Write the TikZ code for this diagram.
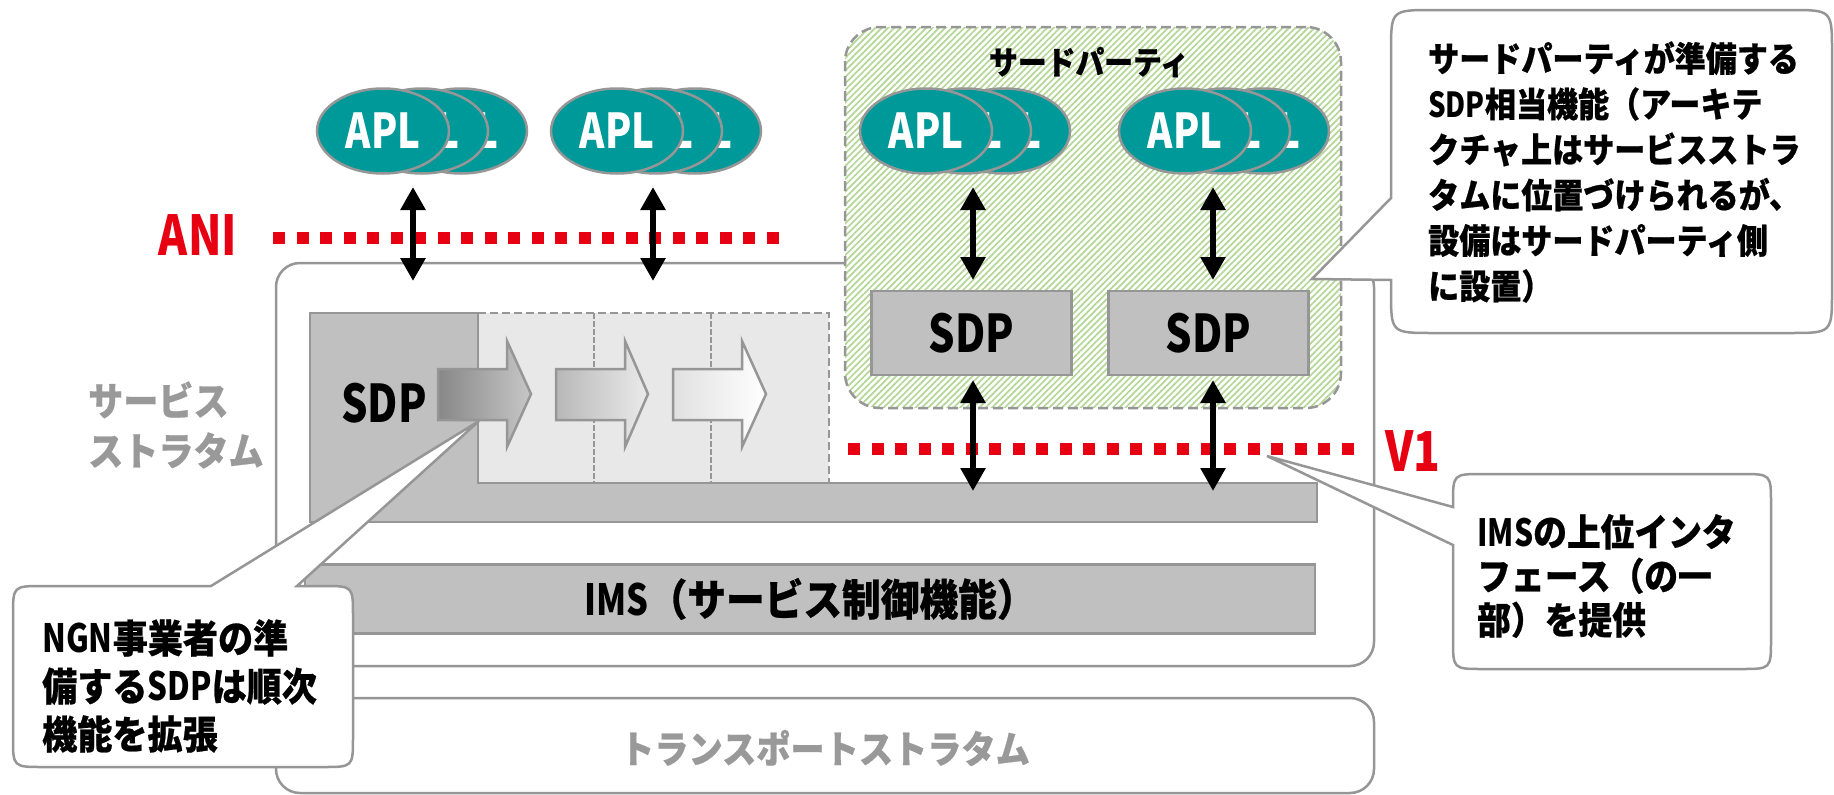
\documentclass[tikz,border=0pt]{standalone}
\usepackage{fontspec}
\usetikzlibrary{arrows.meta,patterns.meta,shapes.geometric}

% Japanese text face (slightly emboldened) and a narrower cut for the Latin labels
\newfontfamily\jpf[FakeStretch=0.9, FakeBold=0.6]{Noto Sans CJK JP}
\newfontfamily\ltf[FakeStretch=0.8]{Noto Sans CJK JP}

\definecolor{edgegray}{RGB}{150,150,150}
\definecolor{boxgray}{RGB}{192,192,192}
\definecolor{lightfill}{RGB}{232,232,232}
\definecolor{aplteal}{RGB}{0,153,153}
\definecolor{ifred}{RGB}{230,0,18}
\definecolor{labelgray}{RGB}{153,153,153}
\definecolor{hatchgreen}{RGB}{180,215,150}

\tikzset{
  edge/.style={draw=edgegray, line width=2.5pt},
  stratum/.style={edge, fill=white, rounded corners=24pt, minimum width=1098pt, inner sep=0pt},
  greybox/.style={edge, fill=boxgray, inner sep=0pt},
  tpbox/.style={draw=edgegray, line width=2.5pt, dash pattern=on 10pt off 5pt,
    rounded corners=35pt, minimum width=496pt, minimum height=381pt, inner sep=0pt,
    preaction={fill=white},
    pattern={Lines[angle=45,distance=4.5pt,line width=1.7pt]}, pattern color=hatchgreen},
  apl/.style={ellipse, draw=edgegray, line width=2.5pt, fill=aplteal, text=white,
    minimum width=132pt, minimum height=85pt, inner sep=0pt,
    font=\ltf\bfseries\fontsize{48}{48}\selectfont},
  sdplabel/.style={inner sep=0pt, font=\ltf\bfseries\fontsize{52}{52}\selectfont},
  dbl/.style={{Triangle[length=23pt,width=24pt]}-{Triangle[length=23pt,width=24pt]}, line width=6pt},
  ifline/.style={draw=ifred, line width=12pt, dash pattern=on 12pt off 11.5pt},
  iflabel/.style={text=ifred, inner sep=0pt, font=\ltf\bfseries\fontsize{55}{55}\selectfont},
  blockarrow/.style={draw=edgegray, line width=2.5pt, line join=miter},
  bubble/.style={fill=white, draw=edgegray, line width=2.5pt, line join=miter},
  note/.style 2 args={align=left, anchor=west, inner sep=0pt,
    font=\jpf\bfseries\fontsize{#1}{#2}\selectfont},
  jtitle/.style={inner sep=0pt, font=\jpf\bfseries\fontsize{#1}{#1}\selectfont},
}

\begin{document}
\begin{tikzpicture}[x=1pt,y=-1pt]
\useasboundingbox (0,0) rectangle (1834,795);

% service and transport strata
\node[stratum, minimum height=403pt] (svc) at (825,464.5) {};
\node[stratum, minimum height=95pt] (trn) at (825,745.5) {};
\node[jtitle=38, text=labelgray] (trnlabel) at (825,748) {トランスポートストラタム};
\node[note={39}{50}, text=labelgray] (svclabel) at (88,425) {サービス\\ストラタム};

% third-party area
\node[tpbox] (tp) at (1093,217.5) {};
\node[jtitle=32] (tptitle) at (1089,62) {サードパーティ};

% operator SDP with its planned extensions
\fill[lightfill] (478,313) rectangle (829,483);
\draw[edge, dash pattern=on 8pt off 4pt] (478,313) -- (829,313) -- (829,483);
\draw[edgegray, line width=1.5pt, dash pattern=on 6pt off 2pt] (594,313) -- (594,483);
\draw[edgegray, line width=1.5pt, dash pattern=on 6pt off 2pt] (711,313) -- (711,483);
\draw[greybox] (310,313) -- (478,313) -- (478,483) -- (1317,483) -- (1317,522) -- (310,522) -- cycle;
\node[sdplabel, anchor=west] (sdpmain) at (341,403) {SDP};

% IMS
\node[greybox, minimum width=1010pt, minimum height=69pt,
      font=\jpf\bfseries\fontsize{43}{43}\selectfont] (ims) at (810,599) {{\ltf IMS}（サービス制御機能）};

% growth arrows
\path[blockarrow, left color=black!47, right color=black!22]
  (438,369) -- (507,369) -- (507,341) -- (531,394) -- (507,447) -- (507,420) -- (438,420) -- cycle;
\path[blockarrow, left color=black!28, right color=black!8]
  (556,369) -- (625,369) -- (625,341) -- (648,394) -- (625,447) -- (625,420) -- (556,420) -- cycle;
\path[blockarrow, left color=black!12, right color=white]
  (673,369) -- (742,369) -- (742,341) -- (766,394) -- (742,447) -- (742,420) -- (673,420) -- cycle;

% application groups
\foreach \g/\cx in {1/383, 2/617, 3/926, 4/1185} {
  \node[apl] (apl\g c) at (\cx+78,131) {APL};
  \node[apl] (apl\g b) at (\cx+39,131) {APL};
  \node[apl] (apl\g a) at (\cx,131) {APL};
}

% third-party SDPs
\node[greybox, sdplabel, minimum width=200pt, minimum height=84pt] (sdp3) at (971.5,333) {SDP};
\node[greybox, sdplabel, minimum width=200pt, minimum height=84pt] (sdp4) at (1208.5,333) {SDP};

% reference points ANI and V1
\coordinate (anis) at (273,238);
\coordinate (anie) at (782,238);
\coordinate (v1s) at (848,449);
\coordinate (v1e) at (1357,449);
\draw[ifline] (anis) -- (anie);
\draw[ifline] (v1s) -- (v1e);
\node[iflabel] (anilabel) at (198,235) {ANI};
\node[iflabel] (v1label) at (1413,451) {V1};

% interfaces
\coordinate (u1a) at (413,187);  \coordinate (u1b) at (413,281);
\coordinate (u2a) at (653,187);  \coordinate (u2b) at (653,281);
\coordinate (u3a) at (973,187);  \coordinate (u3b) at (973,280);
\coordinate (u4a) at (1213,187); \coordinate (u4b) at (1213,280);
\coordinate (l3a) at (973,380);  \coordinate (l3b) at (973,491);
\coordinate (l4a) at (1213,380); \coordinate (l4b) at (1213,491);
\draw[dbl] (u1a) -- (u1b);
\draw[dbl] (u2a) -- (u2b);
\draw[dbl] (u3a) -- (u3b);
\draw[dbl] (u4a) -- (u4b);
\draw[dbl] (l3a) -- (l3b);
\draw[dbl] (l4a) -- (l4b);

% callouts: rounded boxes with a pointed tail
\draw[bubble] (297,586) -- (323,586) .. controls (353,586) .. (353,616)
  -- (353,737) .. controls (353,767) .. (323,767)
  -- (43,767) .. controls (13,767) .. (13,737)
  -- (13,616) .. controls (13,586) .. (43,586)
  -- (211,586) -- (479,421) -- cycle;
\node[note={39}{48}] (note1) at (42,686) {{\ltf NGN}事業者の準\\備する{\ltf SDP}は順次\\機能を拡張};

\draw[bubble] (1391,280) -- (1391,291) .. controls (1391,333) .. (1433,333)
  -- (1790,333) .. controls (1832,333) .. (1832,291)
  -- (1832,52) .. controls (1832,10) .. (1790,10)
  -- (1433,10) .. controls (1391,10) .. (1391,52)
  -- (1391,198) -- (1312,279) -- cycle;
\node[note={34.5}{45.5}] (note2) at (1428,172) {サードパーティが準備する\\{\ltf SDP}相当機能（アーキテ\\クチャ上はサービスストラ\\タムに位置づけられるが、\\設備はサードパーティ側\\に設置）};

\draw[bubble] (1453,545) -- (1453,639) .. controls (1453,669) .. (1483,669)
  -- (1741,669) .. controls (1771,669) .. (1771,639)
  -- (1771,504) .. controls (1771,474) .. (1741,474)
  -- (1483,474) .. controls (1453,474) .. (1453,504)
  -- (1453,507) -- (1267,456) -- cycle;
\node[note={37.5}{44}] (note3) at (1477,576) {{\ltf IMS}の上位インタ\\フェース（の一\\部）を提供};

\end{tikzpicture}
\end{document}
